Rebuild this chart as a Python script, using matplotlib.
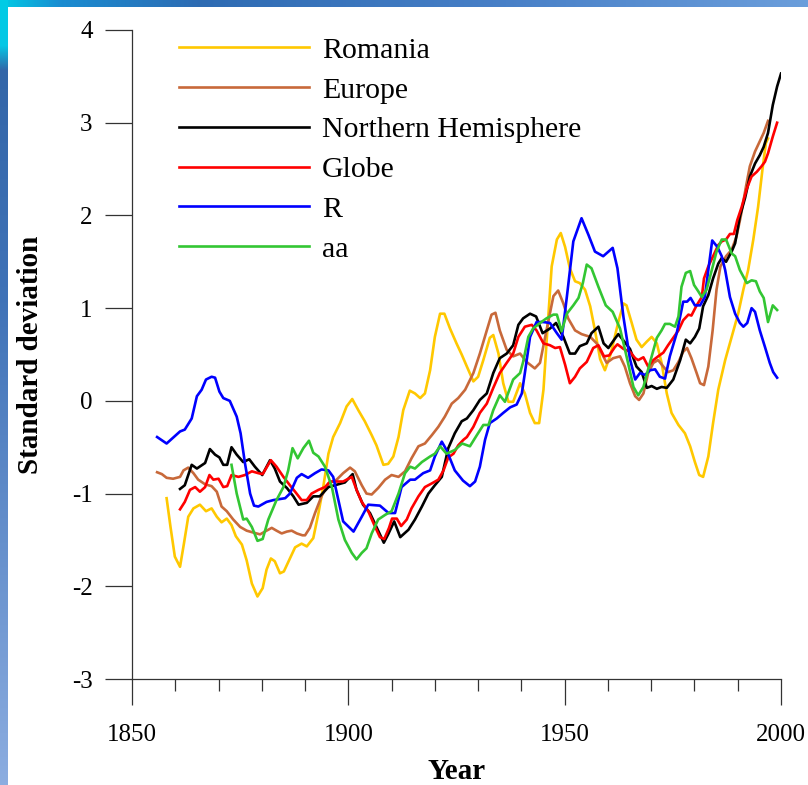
import numpy as np
import matplotlib
matplotlib.use("Agg")
import matplotlib.pyplot as plt
from matplotlib.ticker import MultipleLocator
from matplotlib.lines import Line2D

plt.rcParams['font.family'] = ['Liberation Serif', 'DejaVu Serif']
plt.rcParams['axes.unicode_minus'] = False

# ---- series (standardised anomalies, running means) ----
romania_years = [1858.0, 1858.9, 1859.9, 1861.1, 1862.0, 1863.0, 1864.2, 1865.7, 1867.1, 1868.4,
                 1869.6, 1870.7, 1871.9, 1873.0, 1874.0, 1875.4, 1876.5, 1877.7, 1879.0, 1880.2,
                 1881.1, 1882.1, 1883.0, 1884.2, 1885.1, 1886.5, 1887.7, 1889.2, 1890.4, 1891.9,
                 1893.1, 1894.2, 1895.4, 1896.5, 1898.1, 1899.6, 1900.9, 1902.3, 1903.8, 1905.4,
                 1906.5, 1908.1, 1909.2, 1910.4, 1911.6, 1912.7, 1914.2, 1915.4, 1916.6, 1917.7,
                 1918.9, 1920.0, 1921.2, 1922.2, 1923.5, 1925.0, 1926.2, 1927.4, 1928.9, 1930.0,
                 1931.2, 1932.7, 1933.5, 1934.7, 1935.8, 1937.0, 1938.1, 1939.7, 1940.8, 1942.0,
                 1943.1, 1944.1, 1945.1, 1946.0, 1947.0, 1948.2, 1949.1, 1950.1, 1951.2, 1952.4,
                 1953.5, 1954.7, 1955.9, 1957.0, 1958.2, 1959.3, 1960.6, 1962.4, 1963.6, 1964.3,
                 1965.5, 1966.6, 1967.8, 1969.0, 1970.1, 1971.3, 1972.4, 1973.6, 1974.7, 1976.3,
                 1977.8, 1979.0, 1980.1, 1981.1, 1982.0, 1983.2, 1984.3, 1985.5, 1987.1, 1988.6,
                 1990.1, 1991.3, 1992.4, 1993.6, 1994.7, 1995.7, 1996.5, 1997.0]
romania_values = [-1.05, -1.36, -1.68, -1.79, -1.54, -1.25, -1.16, -1.12, -1.19, -1.16,
                  -1.25, -1.31, -1.27, -1.34, -1.46, -1.55, -1.72, -1.97, -2.11, -2.02,
                  -1.82, -1.70, -1.73, -1.86, -1.84, -1.70, -1.58, -1.54, -1.57, -1.48,
                  -1.21, -0.93, -0.57, -0.39, -0.24, -0.06, 0.02, -0.10, -0.22, -0.37,
                  -0.48, -0.69, -0.68, -0.60, -0.39, -0.10, 0.11, 0.08, 0.03, 0.08,
                  0.33, 0.69, 0.94, 0.94, 0.78, 0.62, 0.50, 0.37, 0.21, 0.26,
                  0.44, 0.68, 0.71, 0.51, 0.19, -0.01, -0.01, 0.19, 0.08, -0.13,
                  -0.24, -0.24, 0.12, 0.76, 1.45, 1.74, 1.81, 1.66, 1.43, 1.29,
                  1.27, 1.20, 1.02, 0.76, 0.45, 0.33, 0.50, 0.85, 1.05, 1.03,
                  0.84, 0.66, 0.58, 0.64, 0.69, 0.62, 0.41, 0.08, -0.13, -0.26,
                  -0.35, -0.49, -0.66, -0.80, -0.82, -0.60, -0.24, 0.12, 0.44, 0.69,
                  0.94, 1.20, 1.41, 1.74, 2.09, 2.49, 2.78, 2.83]

europe_years = [1855.8, 1856.9, 1858.0, 1859.5, 1861.1, 1861.9, 1863.0, 1864.2, 1865.3, 1866.9,
                1868.4, 1869.6, 1870.7, 1871.9, 1873.4, 1875.0, 1876.5, 1878.0, 1879.6, 1881.1,
                1882.3, 1883.4, 1884.6, 1885.8, 1886.9, 1888.1, 1889.4, 1890.0, 1891.1, 1892.3,
                1893.8, 1895.4, 1897.3, 1898.8, 1900.4, 1901.5, 1903.1, 1904.2, 1905.4, 1906.9,
                1908.5, 1910.0, 1911.6, 1913.1, 1914.6, 1916.2, 1917.7, 1919.3, 1920.8, 1922.3,
                1923.9, 1925.4, 1927.0, 1928.9, 1930.4, 1932.0, 1933.1, 1934.0, 1935.0, 1936.6,
                1938.1, 1939.7, 1941.2, 1943.1, 1944.3, 1945.8, 1947.4, 1948.5, 1949.7, 1950.8,
                1952.4, 1953.9, 1955.9, 1957.4, 1958.6, 1959.7, 1961.2, 1962.8, 1963.9, 1965.1,
                1966.3, 1967.2, 1968.2, 1969.3, 1970.5, 1971.6, 1972.8, 1973.9, 1975.1, 1976.3,
                1977.4, 1978.3, 1979.3, 1980.5, 1981.3, 1982.2, 1983.2, 1984.2, 1985.1, 1986.0,
                1987.3, 1988.6, 1989.7, 1990.7, 1991.9, 1992.8, 1994.0, 1995.1, 1996.0, 1997.0]
europe_values = [-0.77, -0.79, -0.83, -0.84, -0.82, -0.75, -0.72, -0.78, -0.85, -0.90,
                 -0.92, -0.98, -1.14, -1.19, -1.28, -1.36, -1.40, -1.42, -1.44, -1.40,
                 -1.37, -1.40, -1.43, -1.41, -1.40, -1.43, -1.45, -1.45, -1.37, -1.21,
                 -1.03, -0.89, -0.85, -0.78, -0.72, -0.76, -0.91, -1.00, -1.01, -0.94,
                 -0.85, -0.80, -0.82, -0.76, -0.62, -0.49, -0.46, -0.37, -0.28, -0.17,
                 -0.03, 0.03, 0.12, 0.30, 0.51, 0.76, 0.93, 0.95, 0.76, 0.55,
                 0.48, 0.51, 0.42, 0.35, 0.41, 0.76, 1.13, 1.19, 1.05, 0.89,
                 0.76, 0.72, 0.69, 0.62, 0.51, 0.41, 0.46, 0.48, 0.37, 0.19,
                 0.05, 0.01, 0.08, 0.30, 0.41, 0.44, 0.37, 0.31, 0.33, 0.42,
                 0.53, 0.57, 0.46, 0.30, 0.19, 0.17, 0.37, 0.76, 1.20, 1.45,
                 1.56, 1.63, 1.77, 1.99, 2.31, 2.53, 2.69, 2.80, 2.89, 3.02]

nh_years = [1861.1, 1862.2, 1863.8, 1865.0, 1866.9, 1868.0, 1869.2, 1870.2, 1871.1, 1872.0,
            1873.0, 1874.2, 1875.7, 1877.1, 1878.4, 1880.1, 1881.9, 1883.0, 1884.2, 1885.8,
            1887.3, 1888.5, 1890.4, 1891.9, 1893.4, 1895.4, 1896.9, 1899.2, 1901.0, 1901.9,
            1903.4, 1905.0, 1906.5, 1908.2, 1909.2, 1910.6, 1912.0, 1913.9, 1915.4, 1917.0,
            1918.5, 1920.0, 1921.6, 1923.1, 1924.6, 1926.2, 1927.4, 1928.9, 1930.4, 1932.0,
            1933.5, 1935.0, 1936.6, 1938.1, 1939.3, 1940.4, 1942.0, 1943.4, 1944.9, 1946.6,
            1948.0, 1949.7, 1951.2, 1952.4, 1953.5, 1955.1, 1956.2, 1957.8, 1959.0, 1960.1,
            1961.6, 1962.4, 1963.6, 1965.1, 1966.6, 1967.8, 1969.0, 1970.1, 1971.3, 1972.4,
            1973.6, 1975.1, 1976.7, 1978.0, 1979.0, 1980.1, 1981.1, 1982.0, 1983.2, 1984.3,
            1985.5, 1986.3, 1987.3, 1988.6, 1989.4, 1990.5, 1991.7, 1992.8, 1994.0, 1995.1,
            1996.0, 1997.0, 1998.1, 1999.1, 2000.0]
nh_values = [-0.95, -0.91, -0.69, -0.73, -0.67, -0.52, -0.58, -0.61, -0.69, -0.69,
             -0.50, -0.58, -0.66, -0.63, -0.71, -0.80, -0.64, -0.73, -0.87, -0.94,
             -1.03, -1.12, -1.10, -1.03, -1.03, -0.93, -0.91, -0.88, -0.79, -0.96,
             -1.12, -1.21, -1.36, -1.53, -1.44, -1.30, -1.47, -1.39, -1.28, -1.14,
             -1.00, -0.91, -0.82, -0.51, -0.35, -0.22, -0.19, -0.10, 0.01, 0.08,
             0.30, 0.46, 0.51, 0.60, 0.82, 0.89, 0.94, 0.91, 0.73, 0.78,
             0.84, 0.69, 0.51, 0.51, 0.59, 0.62, 0.73, 0.80, 0.62, 0.57,
             0.67, 0.72, 0.65, 0.56, 0.37, 0.31, 0.14, 0.16, 0.13, 0.15,
             0.14, 0.23, 0.44, 0.66, 0.62, 0.69, 0.78, 1.02, 1.14, 1.32,
             1.48, 1.54, 1.50, 1.61, 1.70, 1.99, 2.19, 2.42, 2.56, 2.65,
             2.74, 2.89, 3.19, 3.39, 3.53]

globe_years = [1861.1, 1862.2, 1863.4, 1864.6, 1865.7, 1866.9, 1867.9, 1868.8, 1870.0, 1871.1,
               1872.0, 1873.0, 1874.6, 1876.1, 1877.7, 1879.2, 1880.2, 1882.1, 1883.4, 1885.0,
               1886.5, 1887.7, 1889.2, 1890.4, 1891.5, 1893.1, 1894.6, 1895.8, 1896.9, 1898.8,
               1900.8, 1901.9, 1903.1, 1904.6, 1906.2, 1907.3, 1908.3, 1909.4, 1910.1, 1911.2,
               1912.2, 1913.5, 1914.6, 1916.2, 1917.7, 1919.3, 1920.8, 1922.0, 1923.1, 1924.3,
               1925.4, 1926.6, 1927.4, 1928.9, 1930.4, 1932.0, 1933.5, 1935.0, 1936.6, 1938.1,
               1939.3, 1940.8, 1942.4, 1943.5, 1945.1, 1946.6, 1947.8, 1948.9, 1950.1, 1951.2,
               1952.4, 1953.5, 1955.1, 1956.6, 1957.8, 1959.1, 1960.3, 1961.6, 1962.2, 1963.6,
               1965.1, 1966.3, 1967.0, 1968.2, 1969.3, 1970.5, 1971.6, 1972.8, 1973.9, 1975.1,
               1976.3, 1977.4, 1978.6, 1979.3, 1980.5, 1981.7, 1982.2, 1983.2, 1984.3, 1985.5,
               1986.3, 1987.3, 1988.2, 1989.1, 1989.9, 1990.9, 1992.1, 1993.2, 1994.4, 1995.5,
               1996.3, 1997.0, 1998.1, 1999.1]
globe_values = [-1.17, -1.09, -0.96, -0.93, -0.98, -0.93, -0.80, -0.85, -0.84, -0.93,
                -0.92, -0.80, -0.82, -0.80, -0.76, -0.78, -0.79, -0.64, -0.71, -0.82,
                -0.91, -0.98, -1.07, -1.07, -1.00, -0.96, -0.93, -0.87, -0.87, -0.87,
                -0.82, -0.96, -1.09, -1.19, -1.36, -1.47, -1.49, -1.37, -1.27, -1.27,
                -1.35, -1.28, -1.16, -1.03, -0.93, -0.89, -0.85, -0.75, -0.61, -0.57,
                -0.48, -0.42, -0.39, -0.28, -0.13, -0.03, 0.14, 0.30, 0.41, 0.51,
                0.69, 0.80, 0.82, 0.76, 0.62, 0.60, 0.57, 0.58, 0.39, 0.19,
                0.26, 0.35, 0.42, 0.57, 0.60, 0.48, 0.49, 0.58, 0.61, 0.56,
                0.53, 0.46, 0.44, 0.47, 0.37, 0.44, 0.48, 0.52, 0.60, 0.68,
                0.76, 0.87, 0.93, 0.92, 1.03, 1.12, 1.32, 1.45, 1.56, 1.68,
                1.72, 1.74, 1.80, 1.80, 1.95, 2.09, 2.29, 2.42, 2.47, 2.53,
                2.58, 2.67, 2.85, 3.00]

r_years = [1855.8, 1858.0, 1861.1, 1862.2, 1863.8, 1865.0, 1866.1, 1867.1, 1868.4, 1869.2,
           1870.2, 1871.1, 1872.6, 1874.2, 1875.1, 1876.1, 1877.3, 1878.2, 1879.2, 1881.1,
           1882.7, 1885.4, 1886.5, 1888.1, 1889.2, 1890.7, 1892.3, 1893.8, 1895.4, 1896.5,
           1897.7, 1898.8, 1901.2, 1903.1, 1904.6, 1907.3, 1909.3, 1910.8, 1912.3, 1914.3,
           1915.4, 1917.3, 1918.9, 1920.0, 1921.6, 1922.7, 1924.6, 1926.5, 1928.1, 1929.3,
           1930.4, 1931.6, 1932.7, 1934.3, 1935.8, 1937.4, 1938.9, 1940.1, 1940.8, 1942.0,
           1943.5, 1945.1, 1946.6, 1948.2, 1949.3, 1950.5, 1952.0, 1953.9, 1955.5, 1957.0,
           1958.9, 1961.1, 1962.2, 1963.6, 1965.1, 1966.3, 1967.4, 1968.6, 1969.7, 1970.9,
           1972.0, 1973.2, 1974.3, 1975.9, 1977.4, 1978.3, 1979.1, 1980.1, 1981.3, 1982.4,
           1983.2, 1984.1, 1985.3, 1986.3, 1987.1, 1988.2, 1989.4, 1990.5, 1991.3, 1992.2,
           1993.2, 1994.0, 1995.1, 1996.3, 1997.4, 1998.2, 1999.1]
r_values = [-0.39, -0.46, -0.33, -0.31, -0.19, 0.05, 0.12, 0.23, 0.26, 0.25,
            0.10, 0.03, 0.00, -0.17, -0.35, -0.67, -1.00, -1.13, -1.14, -1.09,
            -1.07, -1.05, -1.00, -0.83, -0.79, -0.83, -0.78, -0.74, -0.75, -0.82,
            -1.07, -1.30, -1.41, -1.25, -1.12, -1.13, -1.21, -1.21, -0.93, -0.85,
            -0.85, -0.78, -0.75, -0.60, -0.44, -0.53, -0.75, -0.86, -0.92, -0.87,
            -0.71, -0.42, -0.24, -0.19, -0.13, -0.07, -0.04, 0.08, 0.30, 0.69,
            0.85, 0.85, 0.84, 0.73, 0.66, 1.12, 1.72, 1.97, 1.79, 1.61,
            1.56, 1.65, 1.43, 0.90, 0.45, 0.23, 0.30, 0.28, 0.33, 0.34,
            0.26, 0.24, 0.48, 0.73, 1.07, 1.07, 1.11, 1.03, 1.03, 1.12,
            1.41, 1.73, 1.66, 1.56, 1.41, 1.12, 0.94, 0.84, 0.80, 0.84,
            1.00, 0.96, 0.76, 0.58, 0.41, 0.31, 0.25]

aa_years = [1873.0, 1874.2, 1875.7, 1876.5, 1877.7, 1879.0, 1880.2, 1881.5, 1883.4, 1885.0,
            1886.1, 1887.1, 1888.3, 1889.6, 1890.9, 1891.9, 1893.1, 1894.6, 1896.2, 1897.7,
            1899.2, 1900.8, 1901.9, 1903.1, 1904.2, 1905.4, 1906.9, 1908.5, 1910.0, 1911.6,
            1913.1, 1914.3, 1915.4, 1917.0, 1918.9, 1920.0, 1921.2, 1922.7, 1924.6, 1926.3,
            1928.1, 1929.7, 1931.2, 1932.4, 1933.5, 1935.0, 1936.2, 1938.1, 1939.7, 1940.4,
            1941.6, 1942.7, 1944.3, 1945.8, 1947.4, 1948.2, 1949.3, 1950.5, 1952.0, 1953.2,
            1954.2, 1955.1, 1956.2, 1957.8, 1959.5, 1961.1, 1962.8, 1964.3, 1965.9, 1967.0,
            1968.2, 1969.7, 1971.3, 1972.4, 1973.2, 1974.3, 1975.5, 1976.3, 1977.0, 1978.0,
            1979.0, 1979.9, 1980.9, 1981.7, 1982.8, 1984.0, 1985.1, 1986.3, 1987.3, 1988.6,
            1989.4, 1990.5, 1992.1, 1993.2, 1994.2, 1995.1, 1996.0, 1997.0, 1998.1, 1999.1]
aa_values = [-0.69, -1.00, -1.28, -1.27, -1.36, -1.51, -1.49, -1.28, -1.07, -0.93,
             -0.75, -0.51, -0.62, -0.51, -0.43, -0.56, -0.60, -0.71, -0.93, -1.28,
             -1.50, -1.64, -1.71, -1.64, -1.59, -1.43, -1.28, -1.23, -1.19, -1.00,
             -0.78, -0.71, -0.73, -0.66, -0.60, -0.57, -0.49, -0.57, -0.53, -0.46,
             -0.49, -0.37, -0.26, -0.26, -0.10, 0.06, -0.01, 0.23, 0.30, 0.42,
             0.69, 0.78, 0.84, 0.89, 0.93, 0.93, 0.75, 0.94, 1.03, 1.11,
             1.27, 1.47, 1.43, 1.23, 1.03, 0.96, 0.78, 0.48, 0.15, 0.06,
             0.15, 0.41, 0.68, 0.76, 0.83, 0.83, 0.80, 0.91, 1.23, 1.38,
             1.40, 1.25, 1.18, 1.12, 1.20, 1.41, 1.61, 1.74, 1.74, 1.59,
             1.56, 1.41, 1.27, 1.30, 1.29, 1.18, 1.11, 0.85, 1.03, 0.98]

series_names = ["Romania", "Europe", "Northern Hemisphere", "Globe", "R", "aa"]
series_colors = ["#FFC800", "#C8693A", "#000000", "#FF0000", "#0000FF", "#33C633"]
series_data = [(romania_years, romania_values), (europe_years, europe_values),
               (nh_years, nh_values), (globe_years, globe_values),
               (r_years, r_values), (aa_years, aa_values)]

x_major = [1850, 1900, 1950, 2000]
y_major = [-3, -2, -1, 0, 1, 2, 3, 4]

W, H = 808, 785
fig = plt.figure(figsize=(W / 100, H / 100), dpi=100)

# slide background: white panel with thin blue gradient bands on top and left
bg = np.ones((H, W, 3))
ys = np.arange(H)
left_col = np.stack([
    np.interp(ys, [0, 45, 70, 300, 785], [0.00, 0.02, 0.20, 0.25, 0.55]),
    np.interp(ys, [0, 45, 70, 300, 785], [0.80, 0.78, 0.40, 0.45, 0.68]),
    np.interp(ys, [0, 45, 70, 300, 785], [0.90, 0.90, 0.66, 0.72, 0.88]),
], axis=1)
bg[:, :8, :] = left_col[:, None, :]
xs = np.arange(W)
top_row = np.stack([
    np.interp(xs, [0, 60, 200, 500, 808], [0.00, 0.10, 0.18, 0.28, 0.42]),
    np.interp(xs, [0, 60, 200, 500, 808], [0.80, 0.55, 0.42, 0.50, 0.62]),
    np.interp(xs, [0, 60, 200, 500, 808], [0.90, 0.82, 0.70, 0.78, 0.86]),
], axis=1)
bg[:7, 8:, :] = top_row[None, 8:, :]
fig.figimage(bg, xo=0, yo=0, origin='upper', zorder=-1)

ax = fig.add_axes([132 / W, 1 - 679 / H, 649 / W, 649 / H])
ax.set_facecolor('none')

for (xv, yv), name, col in zip(series_data, series_names, series_colors):
    ax.plot(xv, yv, color=col, lw=1.9, solid_joinstyle='round', label=name)

ax.set_xlim(1850, 2000)
ax.set_ylim(-3, 4)
ax.set_xticks(x_major)
ax.xaxis.set_minor_locator(MultipleLocator(10))
ax.set_yticks(y_major)

spine_col = '#333333'
for s in ['top', 'right']:
    ax.spines[s].set_visible(False)
for s in ['left', 'bottom']:
    ax.spines[s].set_color(spine_col)
    ax.spines[s].set_linewidth(0.9)

ax.tick_params(axis='y', which='major', direction='out', length=19.4, width=0.9,
               color=spine_col, pad=9, labelsize=18)
ax.tick_params(axis='x', which='major', direction='out', length=18.7, width=0.9,
               color=spine_col, pad=14, labelsize=18)
ax.tick_params(axis='x', which='minor', direction='out', length=8.6, width=0.9,
               color=spine_col)

ax.set_xlabel("Year", fontsize=21, fontweight='bold')
ax.set_ylabel("Standard deviation", fontsize=21, fontweight='bold')
ax.xaxis.set_label_coords(0.5, -0.121)
ax.yaxis.set_label_coords(-0.136, 0.5)

handles = [Line2D([], [], color=c, lw=1.9) for c in series_colors]
ax.legend(handles, series_names, loc='upper left',
          bbox_to_anchor=(179 / W, 1 - 37 / H), bbox_transform=fig.transFigure,
          frameon=False, borderpad=0, borderaxespad=0, fontsize=21.5,
          handlelength=4.35, handletextpad=0.43, labelspacing=0.43)

fig.savefig("out.png", dpi=100)
